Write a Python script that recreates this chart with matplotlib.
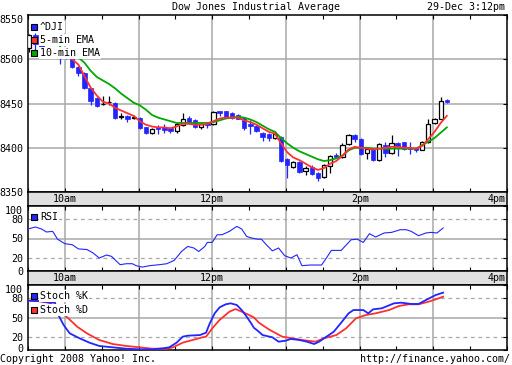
import numpy as np
import matplotlib
matplotlib.use("Agg")
import matplotlib.pyplot as plt
from matplotlib.patches import Rectangle
from matplotlib.transforms import ScaledTranslation

W, H = 512, 365

# 5-min candles, ^DJI 29-Dec-2008
opens = [8513, 8527, 8518, 8512, 8509, 8504, 8505, 8501, 8491, 8485,
         8467, 8456, 8449, 8451.5, 8451, 8435, 8436, 8434, 8434, 8423,
         8417, 8423, 8423, 8422, 8419, 8426, 8434, 8431, 8423, 8428,
         8427, 8441, 8441, 8439, 8437, 8434, 8427, 8425, 8417, 8416,
         8411, 8412, 8387, 8378, 8384, 8374, 8378, 8372, 8367, 8379,
         8392, 8389, 8404, 8414, 8410, 8394, 8399, 8386, 8403, 8394,
         8405, 8406, 8400, 8400, 8398, 8406, 8428, 8433, 8454]
closes = [8527, 8517, 8512, 8508, 8506, 8501, 8501, 8491, 8485, 8467,
          8453, 8447, 8449.5, 8452, 8434, 8435.5, 8432, 8434.5, 8422, 8417,
          8421, 8421, 8420, 8419, 8427, 8433, 8428, 8423, 8427, 8426,
          8440, 8439, 8435, 8434, 8433, 8422, 8425, 8419, 8412, 8411,
          8415, 8385, 8380, 8384, 8373, 8377, 8370, 8366, 8381, 8391,
          8389, 8403, 8414, 8410, 8393, 8399, 8386, 8404, 8394, 8405,
          8402, 8399, 8399, 8397, 8407, 8427, 8433, 8453, 8452]
highs = [8529, 8530, 8520, 8514, 8511, 8506, 8506, 8502, 8492, 8486,
         8468, 8457, 8459, 8459, 8452, 8439, 8437, 8437, 8435, 8424,
         8422, 8426, 8427, 8423, 8428, 8439, 8436, 8432, 8428, 8429,
         8441, 8442, 8442, 8440, 8438, 8435, 8431, 8426, 8418, 8417,
         8419, 8413, 8388, 8385, 8385, 8379, 8381, 8373, 8382, 8392,
         8394, 8405, 8415, 8415, 8411, 8400, 8400, 8405, 8407, 8414,
         8406, 8407, 8406, 8401, 8408, 8433, 8434, 8457, 8455]
lows = [8508, 8510, 8509, 8505, 8502, 8495, 8500, 8490, 8481, 8466,
        8448, 8446, 8448, 8448, 8433, 8433, 8429, 8432, 8421, 8415,
        8416, 8415, 8417, 8417, 8417, 8425, 8427, 8422, 8421, 8422,
        8426, 8436, 8435, 8433, 8432, 8420, 8416, 8418, 8408, 8408,
        8410, 8384, 8366, 8377, 8372, 8369, 8369, 8362, 8366, 8372,
        8388, 8388, 8403, 8407, 8392, 8387, 8385, 8385, 8390, 8393,
        8391, 8398, 8393, 8395, 8397, 8405, 8427, 8432, 8451]

# EMA lines, visible from the 6th candle on (earlier part is under the legend)
ema_start = 5
ema5 = [8506, 8503, 8500, 8494, 8481,
        8468, 8459, 8452, 8450, 8445, 8442, 8439, 8436, 8430, 8426,
        8424, 8423, 8423, 8422, 8424, 8427, 8427, 8426, 8426, 8427,
        8430, 8433, 8434, 8434, 8434, 8431, 8429, 8426, 8422, 8418,
        8416, 8405, 8395, 8389, 8386, 8382, 8378, 8375, 8377, 8382,
        8385, 8391, 8398, 8401, 8400, 8399, 8398, 8399, 8400, 8401,
        8401, 8400, 8400, 8399, 8402, 8410, 8418, 8428, 8436]
ema10 = [8514, 8510, 8506, 8502, 8496,
         8487, 8480, 8476, 8472, 8467, 8461, 8456, 8451, 8448, 8443,
         8437, 8434, 8432, 8430, 8428, 8428, 8428, 8428, 8428, 8428,
         8429, 8431, 8433, 8434, 8435, 8434, 8432, 8429, 8425, 8421,
         8418, 8411, 8405, 8400, 8396, 8393, 8390, 8387, 8385, 8386,
         8388, 8391, 8397, 8400, 8400, 8400, 8399, 8399, 8399, 8399,
         8399, 8399, 8399, 8399, 8403, 8407, 8411, 8417, 8423]

# minutes after 9:30
rsi_min = [0, 6, 11, 15, 20, 21, 24, 30, 36, 41, 48, 53, 58, 64, 68, 75, 80, 85,
           88, 93, 99, 107, 113, 119, 125, 130, 135, 139, 144, 146, 150, 154, 158,
           164, 170, 174, 178, 182, 187, 190, 194, 199, 204, 209, 214, 219, 223,
           230, 239, 243, 247, 255, 263, 268, 273, 278, 283, 290, 296, 303, 308,
           312, 318, 324, 328, 333, 338]
rsi_val = [64.6, 67.7, 64.6, 60, 61, 58.5, 49, 42, 40.5, 34, 33, 27.7, 20, 24.6,
           22.5, 9.7, 11.2, 11.2, 8.2, 6, 8.2, 9.7, 11.2, 16.3, 30, 37.8, 35.4, 30,
           37.8, 44, 44, 55.8, 55.8, 61, 68.6, 64.6, 53.2, 50.8, 49, 49, 40.5, 31,
           35.4, 23.5, 20, 25, 8.2, 9.2, 9.2, 20, 31.7, 31.7, 48, 49, 44, 57.4,
           52.3, 58.5, 59.4, 63.5, 63.5, 61, 54.3, 58.5, 59.4, 58.5, 66.2]

stk_min = [0, 10, 18, 22, 24, 29, 34, 42, 50, 58, 69, 80, 91, 101, 110, 115, 121,
           126, 130, 140, 145, 148, 152, 156, 161, 165, 170, 174, 178, 181, 184,
           187, 191, 199, 204, 210, 214, 221, 227, 233, 237, 243, 249, 255, 261,
           265, 273, 277, 281, 288, 298, 304, 312, 318, 324, 332, 338]
stk_val = [76, 75, 73, 72.8, 56.4, 38.5, 25.6, 18, 11.3, 6.2, 4.1, 2, 1, 1, 2.6,
           4.1, 11.3, 20.5, 22, 23, 26.6, 41, 56.4, 65.6, 70.3, 71.8, 69.2, 61.5,
           51.3, 43, 34, 29.7, 23, 19.5, 12.8, 14.4, 17, 15.4, 12.8, 9.2, 12.8,
           20.5, 28.2, 42, 56.4, 61.5, 61.5, 56.4, 62.6, 64.1, 71.8, 72.8, 70.8,
           70.8, 76.9, 84.6, 88.2]
std_min = [0, 10, 18, 30, 40, 48, 58, 69, 80, 91, 101, 113, 118, 126, 134, 142,
           145, 150, 156, 164, 169, 174, 180, 184, 188, 196, 207, 215, 223, 234,
           241, 251, 259, 267, 275, 283, 294, 302, 310, 318, 326, 332, 338]
std_val = [76, 75, 72.3, 53.8, 35.9, 25.6, 15.4, 9.2, 6.2, 4.1, 2, 2, 4.1, 11.3,
           15.4, 19.5, 20.5, 33.3, 46.2, 59, 63, 59, 53.8, 50, 42, 31.8, 20.5, 18,
           15.4, 12.8, 18, 23, 33.3, 48.7, 53.8, 56.4, 61.5, 67.7, 70.3, 70.3,
           74.3, 78, 82]

hour_min = [30, 90, 150, 210, 270, 330]
half_min = [0, 30, 60, 90, 120, 150, 180, 210, 240, 270, 300, 330, 360, 390]
lbl_min = [30, 150, 270, 390]
lbl_txt = ['10am', '12pm', '2pm', '4pm']

BLUE = '#2424ff'
RED = '#ff3030'
GREEN = '#00a800'
GRID = '#a8a8a8'
BAND = '#e0e0e0'
FONT = 'DejaVu Sans Mono'
FS = 7.2

plt.rcParams['font.family'] = FONT
plt.rcParams['font.size'] = FS

fig = plt.figure(figsize=(W / 100, H / 100), dpi=100)
fig.patch.set_facecolor('white')


def box(x0, y0, x1, y1):
    return [x0 / W, 1 - y1 / H, (x1 - x0) / W, (y1 - y0) / H]


XL = (0.4, 389.3)


def setup(ax, ylim, yt, ylab):
    ax.set_xlim(*XL)
    ax.set_ylim(*ylim)
    for s in ax.spines.values():
        s.set_color('black')
        s.set_linewidth(1.1)
    ax.set_xticks(half_min)
    ax.set_xticklabels([])
    ax.tick_params(axis='x', direction='in', length=3, top=True, bottom=True, width=0.8)
    ax.set_yticks(yt)
    ax.set_yticklabels(ylab)
    ax.tick_params(axis='y', direction='in', length=3, left=False, right=True,
                   labelleft=True, pad=3.5, width=0.8, labelsize=FS)
    for x in hour_min:
        ax.axvline(x, color=GRID, lw=1.1, zorder=0)


def band(y0, y1):
    b = fig.add_axes(box(28, y0, 507, y1))
    b.set_facecolor(BAND)
    b.set_xlim(*XL)
    b.set_ylim(0, 1)
    b.set_xticks([])
    b.set_yticks([])
    for s in b.spines.values():
        s.set_linewidth(1.1)
    for m, t in zip(lbl_min, lbl_txt):
        if m > XL[1] - 10:
            b.text(XL[1] - 1, 0.5, t, ha='right', va='center', fontsize=FS)
        else:
            b.text(m, 0.5, t, ha='center', va='center', fontsize=FS)


def legend_item(x, y, color, label):
    fig.patches.append(Rectangle(((x) / W, 1 - (y + 3) / H), 6 / W, 6 / H,
                                 transform=fig.transFigure, facecolor=color,
                                 edgecolor='black', lw=0.8, zorder=10))
    fig.text((x + 9) / W, 1 - y / H, label, ha='left', va='center', fontsize=FS,
             zorder=9, bbox=dict(facecolor='white', edgecolor='none', pad=0.6))


# ---- price panel
ax = fig.add_axes(box(28, 15, 507, 192))
setup(ax, (8350, 8550), [8350, 8400, 8450, 8500, 8550],
      ['8350', '8400', '8450', '8500', '8550'])
ax.get_yticklabels()[-1].set_va('top')
for v in [8400, 8450, 8500]:
    ax.axhline(v, color=GRID, lw=1.1, zorder=0)

o = np.array(opens)
c = np.array(closes)
t = np.arange(len(o)) * 5 + 1
up = c >= o
wick_col = np.where(up, 'black', BLUE)
ax.vlines(t, lows, highs, colors=wick_col, lw=0.9, zorder=2)
bot = np.minimum(o, c)
hgt = np.maximum(np.abs(c - o), 0.7)
ax.bar(t[up], hgt[up], bottom=bot[up], width=3.4, color='white',
       edgecolor='black', lw=0.9, zorder=3)
ax.bar(t[~up], hgt[~up], bottom=bot[~up], width=3.6, color=BLUE,
       edgecolor=BLUE, lw=0.5, zorder=3)
ax.plot(t[ema_start:], ema10, color=GREEN, lw=1.3, zorder=4)
ax.plot(t[ema_start:], ema5, color=RED, lw=1.3, zorder=5)

legend_item(31, 27, BLUE, '^DJI')
legend_item(31, 40, RED, '5-min EMA')
legend_item(31, 53, GREEN, '10-min EMA')

band(192, 206)

# ---- RSI panel
ax2 = fig.add_axes(box(28, 206, 507, 271))
setup(ax2, (0, 100), [0, 20, 50, 80, 100], ['0', '20', '50', '80', '100'])
ax2.get_yticklabels()[-1].set_va('top')
ax2.axhline(50, color=GRID, lw=1.1, zorder=0)
for v in [20, 80]:
    ax2.axhline(v, color=GRID, lw=0.9, ls=(0, (3, 3)), zorder=0)
ax2.plot(rsi_min, rsi_val, color=BLUE, lw=0.8, zorder=3)
legend_item(31, 217, BLUE, 'RSI')

band(271, 285)

# ---- Stochastic panel
ax3 = fig.add_axes(box(28, 285, 507, 350))
setup(ax3, (0, 100), [0, 20, 50, 80, 100], ['0', '20', '50', '80', '100'])
ax3.get_yticklabels()[-1].set_va('top')
lab0 = ax3.get_yticklabels()[0]
lab0.set_transform(lab0.get_transform() + ScaledTranslation(0, 2 / 100, fig.dpi_scale_trans))
ax3.axhline(50, color=GRID, lw=1.1, zorder=0)
for v in [20, 80]:
    ax3.axhline(v, color=GRID, lw=0.9, ls=(0, (3, 3)), zorder=0)
ax3.plot(std_min, std_val, color=RED, lw=1.3, zorder=3)
ax3.plot(stk_min, stk_val, color=BLUE, lw=1.3, zorder=4)
legend_item(31, 296, BLUE, 'Stoch %K')
legend_item(31, 310, RED, 'Stoch %D')

# ---- header / footer
fig.text(256 / W, 1 - 7 / H, 'Dow Jones Industrial Average', ha='center', va='center', fontsize=FS)
fig.text(505 / W, 1 - 7 / H, '29-Dec 3:12pm', ha='right', va='center', fontsize=FS)
fig.text(0, 1 - 359 / H, 'Copyright 2008 Yahoo! Inc.', ha='left', va='center', fontsize=FS)
fig.text(510 / W, 1 - 359 / H, 'http://finance.yahoo.com/', ha='right', va='center', fontsize=FS)

fig.savefig('out.png', dpi=100)
